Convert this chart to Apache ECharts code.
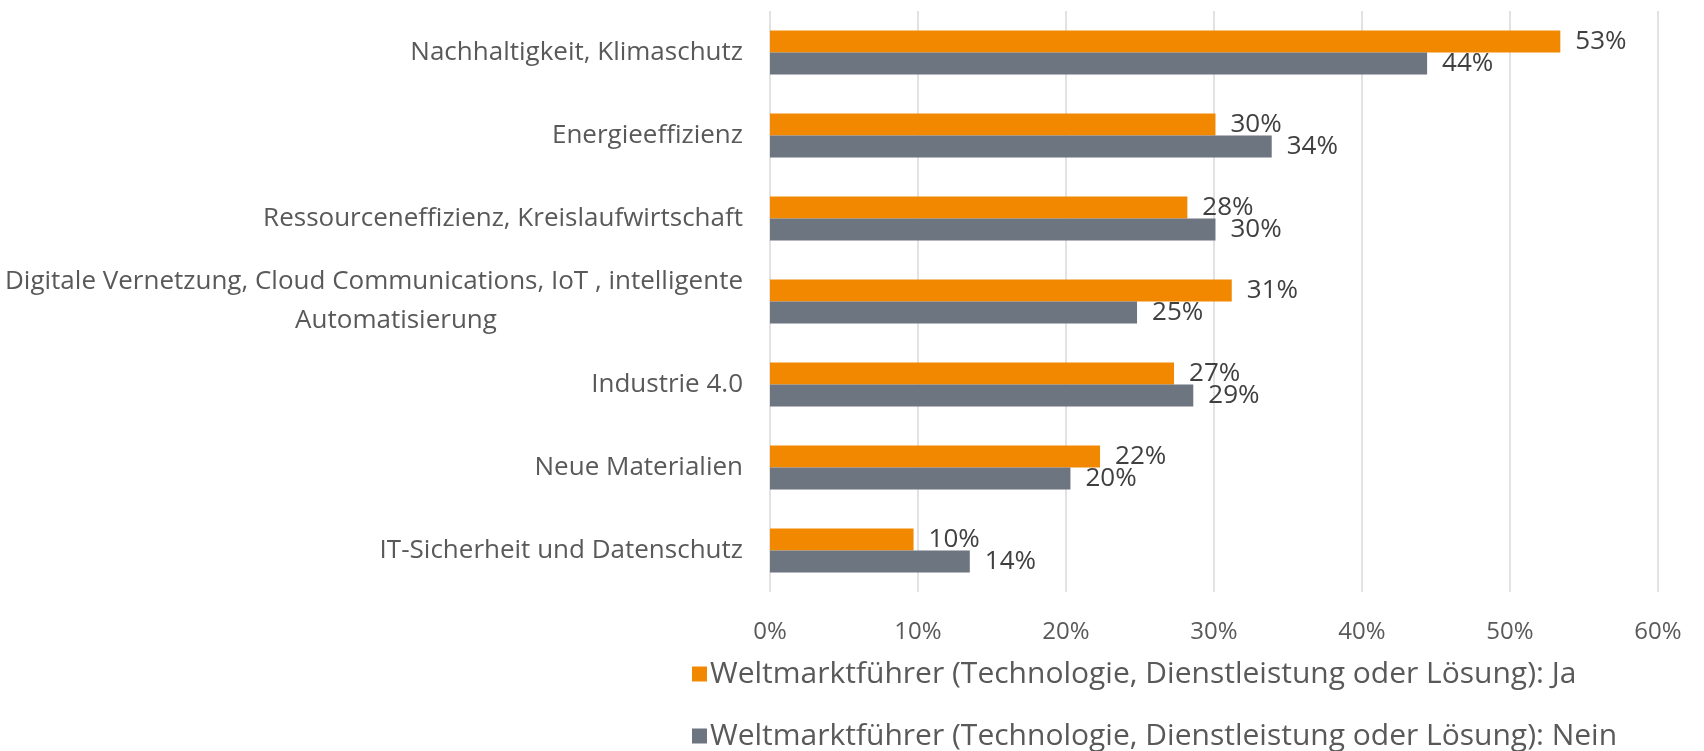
<!DOCTYPE html>
<html>
<head>
<meta charset="utf-8">
<script src="https://cdn.jsdelivr.net/npm/echarts@6/dist/echarts.min.js"></script>
<style>
  html, body { margin: 0; padding: 0; background: #fff; }
  #chart { width: 1704px; height: 751px; }
</style>
</head>
<body>
<div id="chart"></div>
<script>
const categories = [
  'Nachhaltigkeit, Klimaschutz',
  'Energieeffizienz',
  'Ressourceneffizienz, Kreislaufwirtschaft',
  'Digitale Vernetzung, Cloud Communications, IoT , intelligente\nAutomatisierung',
  'Industrie 4.0',
  'Neue Materialien',
  'IT-Sicherheit und Datenschutz'
]
const seriesNames = [
  'Weltmarktführer (Technologie, Dienstleistung oder Lösung): Ja',
  'Weltmarktführer (Technologie, Dienstleistung oder Lösung): Nein'
]
const valuesJa = [53.4, 30.1, 28.2, 31.2, 27.3, 22.3, 9.7]
const valuesNein = [44.4, 33.9, 30.1, 24.8, 28.6, 20.3, 13.5]
const xTicks = [0, 10, 20, 30, 40, 50, 60]

const FONT = "'Open Sans', sans-serif"
const FS = 26

const chart = echarts.init(document.getElementById('chart'))

const labelStyle = {
  show: true,
  position: 'right',
  distance: 15,
  color: '#404040',
  fontFamily: FONT,
  fontSize: FS,
  formatter: p => Math.round(p.value) + '%'
}

const option = {
  animation: false,
  grid: { left: 770, right: 46, top: 11, bottom: 159 },
  xAxis: {
    type: 'value',
    min: xTicks[0],
    max: xTicks[xTicks.length - 1],
    interval: 10,
    axisLine: { show: false },
    axisTick: { show: false },
    splitLine: { lineStyle: { color: '#d9d9d9', width: 1.5 } },
    axisLabel: {
      margin: 28,
      color: '#595959',
      fontFamily: FONT,
      fontSize: 24,
      formatter: '{value}%'
    }
  },
  yAxis: {
    type: 'category',
    inverse: true,
    data: categories,
    axisLine: { show: false },
    axisTick: { show: false },
    axisLabel: {
      margin: 27,
      color: '#595959',
      fontFamily: FONT,
      fontSize: FS,
      lineHeight: 39,
      formatter: v => {
        if (v.indexOf('\n') < 0) return v
        const parts = v.split('\n')
        return '{a|' + parts[0] + '}\n{b|' + parts[1] + '}'
      },
      rich: {
        a: { color: '#595959', fontFamily: FONT, fontSize: FS, lineHeight: 39 },
        // second line roughly centred, nudged right like the original
        b: {
          color: '#595959', fontFamily: FONT, fontSize: FS, lineHeight: 39,
          align: 'center',
          padding: [0, 0, 0, 44]
        }
      }
    }
  },
  legend: {
    orient: 'vertical',
    left: 692,
    top: 659,
    height: 200,
    padding: 0,
    icon: 'rect',
    itemWidth: 15,
    itemHeight: 15,
    itemGap: 32,
    textStyle: {
      color: '#595959',
      fontFamily: FONT,
      fontSize: 30,
      lineHeight: 30,
      padding: [0, 0, 0, -2]
    },
    data: seriesNames
  },
  series: [
    {
      name: seriesNames[0],
      type: 'bar',
      data: valuesJa,
      barWidth: 22,
      barGap: '0%',
      itemStyle: { color: '#f18800' },
      label: labelStyle
    },
    {
      name: seriesNames[1],
      type: 'bar',
      data: valuesNein,
      barWidth: 22,
      barGap: '0%',
      itemStyle: { color: '#6c7580' },
      label: labelStyle
    }
  ]
}

chart.setOption(option)
</script>
</body>
</html>
